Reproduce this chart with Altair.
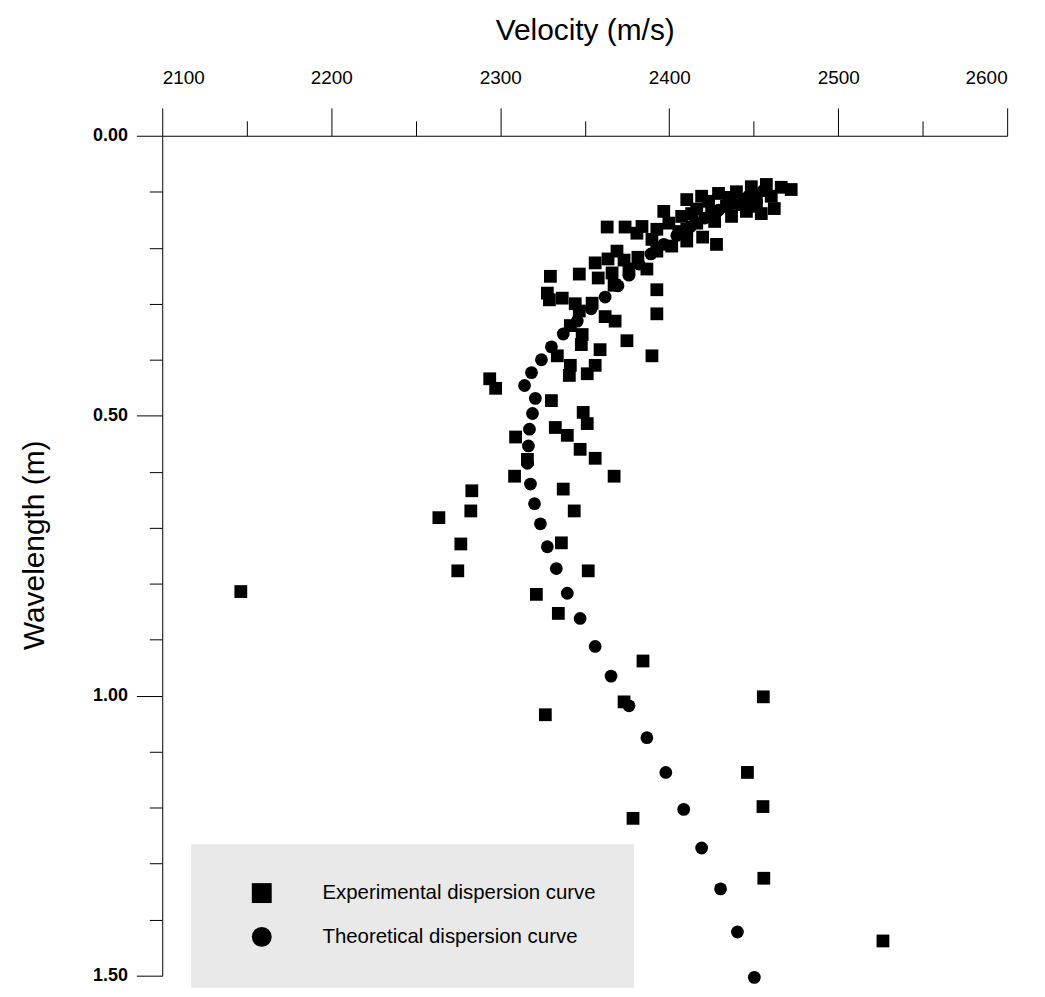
import altair as alt
import pandas as pd

# Experimental dispersion curve (squares)
exp_vel = [2457.5, 2466.3, 2448.6, 2439.8, 2429.2, 2419.2, 2410.4, 2462.2, 2451.6, 2442.8,
           2433.9, 2425.1, 2416.3, 2436.9, 2426.9, 2416.3, 2407.4, 2399.8, 2396.8, 2405.7,
           2419.8, 2428.0, 2392.7, 2383.9, 2373.9, 2363.3, 2410.4, 2401.5, 2392.7, 2381.5,
           2373.3, 2363.8, 2356.2, 2386.8, 2376.2, 2366.2, 2358.0, 2346.8, 2329.7, 2367.4,
           2392.7, 2327.9, 2329.1, 2336.7, 2344.4, 2354.4, 2346.8, 2362.1, 2368.0, 2392.7,
           2341.5, 2348.5, 2348.0, 2359.1, 2375.0, 2389.8, 2333.8, 2341.5, 2340.9, 2356.2,
           2351.5, 2293.8, 2297.3, 2330.3, 2349.1, 2351.5, 2309.1, 2332.6, 2339.7, 2347.3,
           2356.2, 2316.1, 2308.5, 2367.4, 2283.2, 2337.3, 2282.6, 2343.8, 2263.7, 2276.7,
           2336.2, 2274.9, 2352.1, 2146.5, 2321.4, 2334.4, 2384.5, 2455.7, 2373.3, 2326.7,
           2446.3, 2455.5, 2378.6, 2456.0, 2526.5,
           2472.2, 2460.4, 2451.6, 2444.5, 2435.7, 2423.3, 2413.3, 2410.4, 2389.8, 2380.9,
           2369.1, 2445.7, 2454.5]
exp_wl = [0.087, 0.092, 0.091, 0.100, 0.103, 0.108, 0.114, 0.130, 0.126, 0.123,
          0.126, 0.135, 0.131, 0.144, 0.153, 0.156, 0.144, 0.156, 0.135, 0.171,
          0.181, 0.194, 0.167, 0.162, 0.163, 0.163, 0.188, 0.197, 0.206, 0.217,
          0.222, 0.220, 0.227, 0.238, 0.238, 0.245, 0.254, 0.247, 0.251, 0.267,
          0.275, 0.281, 0.293, 0.290, 0.300, 0.299, 0.313, 0.323, 0.331, 0.318,
          0.339, 0.355, 0.373, 0.382, 0.366, 0.393, 0.393, 0.410, 0.428, 0.410,
          0.425, 0.434, 0.451, 0.473, 0.494, 0.514, 0.538, 0.521, 0.535, 0.560,
          0.576, 0.578, 0.608, 0.608, 0.634, 0.631, 0.670, 0.670, 0.682, 0.729,
          0.727, 0.777, 0.777, 0.814, 0.819, 0.853, 0.938, 1.002, 1.011, 1.034,
          1.137, 1.198, 1.219, 1.326, 1.438,
          0.096, 0.108, 0.110, 0.114, 0.110, 0.117, 0.139, 0.167, 0.185, 0.174,
          0.206, 0.135, 0.139]

# Theoretical dispersion curve (circles)
theo_vel = [2455.7, 2446.9, 2438.0, 2429.2, 2421.0, 2412.7, 2404.5, 2396.8, 2389.2, 2382.1,
            2376.2, 2369.7, 2362.1, 2353.8, 2345.6, 2337.3, 2330.3, 2324.4, 2318.5, 2314.4,
            2320.8, 2319.1, 2317.3, 2316.7, 2316.1, 2317.9, 2320.3, 2323.8, 2327.9, 2333.2,
            2339.7, 2347.3, 2356.2, 2365.6, 2376.2, 2386.8, 2398.0, 2408.6, 2419.2, 2430.4,
            2440.4, 2450.4]
theo_wl = [0.098, 0.108, 0.121, 0.133, 0.147, 0.162, 0.178, 0.194, 0.211, 0.229,
           0.249, 0.268, 0.288, 0.309, 0.331, 0.354, 0.377, 0.400, 0.423, 0.446,
           0.469, 0.496, 0.524, 0.554, 0.585, 0.622, 0.657, 0.693, 0.734, 0.773,
           0.817, 0.862, 0.912, 0.965, 1.018, 1.075, 1.137, 1.203, 1.272, 1.345,
           1.422, 1.503]

x_major = [2100, 2200, 2300, 2400, 2500, 2600]
x_minor = [2150, 2250, 2350, 2450, 2550]
y_major = [0.0, 0.5, 1.0, 1.5]
y_minor = [0.1, 0.2, 0.3, 0.4, 0.6, 0.7, 0.8, 0.9, 1.1, 1.2, 1.3, 1.4]

EXP = "Experimental dispersion curve"
THEO = "Theoretical dispersion curve"
series_names = [EXP, THEO]

df = pd.DataFrame({
    "vel": exp_vel + theo_vel,
    "wl": exp_wl + theo_wl,
    "series": [EXP] * len(exp_vel) + [THEO] * len(theo_vel),
})

FONT = "Liberation Sans"
xscale = alt.Scale(domain=[2100, 2600], nice=False, zero=False)
yscale = alt.Scale(domain=[0, 1.5], reverse=True, nice=False, zero=False)

points = alt.Chart(df).mark_point(filled=True, opacity=1, color="black", size=165).encode(
    x=alt.X("vel:Q", scale=xscale, axis=alt.Axis(
        orient="top", values=x_major, format="d", title="Velocity (m/s)",
        tickSize=28, labelPadding=21, labelFontSize=19, labelFont=FONT,
        titleFontSize=30, titleFont=FONT, titleFontWeight="normal",
        titleY=-106, titleBaseline="middle", grid=False,
        domainColor="black", tickColor="black", labelColor="black")),
    y=alt.Y("wl:Q", scale=yscale, axis=alt.Axis(
        orient="left", values=y_major, format=".2f", title="Wavelength (m)",
        tickSize=26, labelPadding=9, labelFontSize=18, labelFont=FONT,
        labelFontWeight="bold",
        titleFontSize=30, titleFont=FONT, titleFontWeight="normal",
        titleX=-128, titleY=411, titleAngle=270, titleBaseline="middle",
        titleAlign="center", grid=False,
        domainColor="black", tickColor="black", labelColor="black")),
    shape=alt.Shape("series:N", scale=alt.Scale(domain=series_names, range=["square", "circle"]),
                    legend=alt.Legend(orient="none", legendX=29, legendY=712, title=None,
                                      fillColor="#e9e9e9", padding=38, symbolOffset=22,
                                      labelOffset=50, rowPadding=18, symbolSize=400,
                                      labelFontSize=20.5, labelFont=FONT, labelLimit=500,
                                      labelColor="black", symbolFillColor="black",
                                      symbolStrokeColor="black")),
)

minor = alt.Chart(df).mark_point(opacity=0).encode(
    x=alt.X("vel:Q", scale=xscale, axis=alt.Axis(
        orient="top", values=x_minor, tickSize=15, labels=False, domain=False,
        title=None, grid=False, tickColor="black")),
    y=alt.Y("wl:Q", scale=yscale, axis=alt.Axis(
        orient="left", values=y_minor, tickSize=13, labels=False, domain=False,
        title=None, grid=False, tickColor="black")),
)

chart = alt.layer(points, minor).resolve_axis(
    x="independent", y="independent"
).properties(
    width=849, height=844,
    padding={"left": 155, "top": 126, "right": 30, "bottom": 12},
    autosize=alt.AutoSizeParams(type="none"),
    background="white",
).configure_view(stroke=None)

chart.save("out.html", embed_options={"renderer": "svg", "actions": False})
